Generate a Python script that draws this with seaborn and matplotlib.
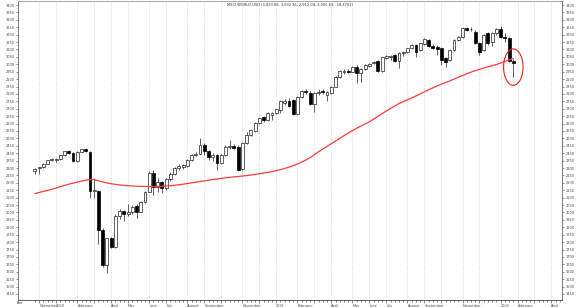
import numpy as np
import pandas as pd
import matplotlib
matplotlib.use("Agg")
import matplotlib.pyplot as plt
import seaborn as sns
from matplotlib.patches import Ellipse
from matplotlib.transforms import Bbox

# ---------------- data (weekly candles, weeks starting Monday) ----------------
first_week = "2019-11-25"
opens = [2278, 2298, 2305, 2330, 2352, 2356, 2360, 2385, 2415, 2400,
         2345, 2408, 2428, 2410, 2145, 2145, 1881, 1645, 1825, 1770,
         1975, 2012, 1992, 2005, 2045, 2005, 2070, 2138, 2265, 2175,
         2205, 2165, 2225, 2262, 2300, 2310, 2315, 2355, 2385, 2397,
         2458, 2412, 2372, 2385, 2335, 2385, 2442, 2446, 2440, 2292,
         2470, 2525, 2548, 2602, 2642, 2624, 2660, 2672, 2690, 2738,
         2755, 2759, 2665, 2780, 2822, 2808, 2732, 2805, 2818, 2793,
         2804, 2849, 2916, 2950, 2955, 2950, 2984, 2939, 2966, 2990,
         3006, 3024, 2957, 3042, 3048, 3060, 3025, 3074, 3080, 3107,
         3130, 3096, 3137, 3164, 3123, 3114, 3107, 3040, 3029, 3096,
         3164, 3182, 3245, 3235, 3220, 3141, 3096, 3209, 3153, 3209,
         3236, 3186, 3175, 3023.89]
highs = [2300, 2310, 2335, 2356, 2366, 2370, 2390, 2418, 2422, 2405,
         2412, 2428, 2435, 2412, 2235, 2152, 1892, 1830, 1835, 1990,
         2025, 2020, 2055, 2050, 2055, 2080, 2145, 2280, 2290, 2230,
         2215, 2235, 2270, 2310, 2325, 2330, 2362, 2392, 2405, 2500,
         2470, 2420, 2400, 2392, 2392, 2452, 2488, 2460, 2452, 2478,
         2545, 2562, 2610, 2640, 2650, 2675, 2680, 2700, 2760, 2765,
         2770, 2768, 2785, 2828, 2835, 2818, 2815, 2830, 2835, 2822,
         2855, 2920, 2962, 2970, 2970, 2990, 2992, 2972, 3000, 3008,
         3022, 3030, 3050, 3062, 3065, 3070, 3082, 3092, 3112, 3135,
         3140, 3146, 3175, 3172, 3135, 3128, 3115, 3050, 3102, 3170,
         3190, 3248, 3252, 3250, 3232, 3150, 3205, 3215, 3215, 3242,
         3255, 3210, 3185, 3032.36]
lows = [2262, 2262, 2300, 2326, 2348, 2340, 2352, 2382, 2398, 2340,
        2342, 2405, 2408, 2100, 2095, 1790, 1630, 1590, 1760, 1760,
        1955, 1945, 1975, 1990, 1960, 2000, 2065, 2135, 2120, 2140,
        2130, 2155, 2215, 2250, 2285, 2295, 2310, 2350, 2378, 2395,
        2390, 2355, 2350, 2290, 2325, 2378, 2430, 2425, 2283, 2285,
        2465, 2515, 2540, 2598, 2610, 2618, 2625, 2665, 2670, 2725,
        2712, 2655, 2655, 2775, 2800, 2722, 2680, 2795, 2800, 2750,
        2800, 2845, 2910, 2935, 2940, 2945, 2871, 2882, 2960, 2982,
        3000, 2950, 2950, 3035, 3030, 3018, 2975, 3055, 3075, 3100,
        3051, 3090, 3132, 3118, 3100, 3060, 2995, 2985, 3020, 3090,
        3155, 3175, 3222, 3225, 3135, 3060, 3090, 3130, 3120, 3200,
        3175, 3150, 3018, 2912.04]
closes = [2295, 2305, 2330, 2352, 2362, 2360, 2385, 2415, 2403, 2345,
          2408, 2425, 2412, 2145, 2150, 1881, 1645, 1825, 1770, 1975,
          2010, 1992, 2005, 2040, 2005, 2070, 2138, 2265, 2175, 2205,
          2165, 2228, 2262, 2300, 2315, 2318, 2355, 2385, 2397, 2458,
          2412, 2375, 2388, 2335, 2385, 2445, 2448, 2435, 2290, 2470,
          2526, 2556, 2605, 2635, 2624, 2668, 2672, 2695, 2752, 2752,
          2720, 2665, 2781, 2822, 2812, 2730, 2808, 2815, 2812, 2815,
          2849, 2916, 2957, 2957, 2950, 2984, 2939, 2966, 2995, 3002,
          3017, 2957, 3047, 3056, 3055, 3025, 3076, 3085, 3107, 3130,
          3085, 3141, 3168, 3123, 3107, 3100, 3029, 3018, 3096, 3164,
          3182, 3242, 3231, 3238, 3141, 3085, 3197, 3141, 3209, 3236,
          3186, 3175, 3024.1, 3005.63]
moving_avg = [2128, 2135, 2142, 2149, 2156, 2165, 2174, 2183, 2191, 2198,
              2205, 2212, 2218, 2222, 2221, 2214, 2206, 2199, 2194, 2190,
              2186, 2183, 2181, 2179, 2177, 2176, 2176, 2175, 2175, 2176,
              2177, 2179, 2181, 2184, 2187, 2191, 2195, 2200, 2204, 2209,
              2213, 2218, 2222, 2226, 2230, 2234, 2237, 2240, 2243, 2246,
              2249, 2253, 2257, 2261, 2266, 2271, 2276, 2282, 2289, 2297,
              2306, 2316, 2327, 2340, 2354, 2370, 2390, 2410, 2428, 2446,
              2464, 2482, 2500, 2518, 2536, 2553, 2568, 2583, 2598, 2612,
              2630, 2648, 2666, 2685, 2702, 2719, 2735, 2748, 2760, 2773,
              2786, 2800, 2814, 2828, 2841, 2854, 2866, 2877, 2888, 2900,
              2912, 2924, 2936, 2947, 2957, 2966, 2975, 2983, 2990, 2998,
              3008, 3019, 3030, 3038]
title_text = "MSCI WORLD USD (3,023.89, 3,032.36, 2,912.04, 3,005.63, -18.4702)"
month_names = ["January", "February", "March", "April", "May", "June", "July",
               "August", "September", "October", "November", "December"]
unlabeled_months = ["2020-03", "2020-10", "2020-12", "2021-03", "2021-10",
                    "2021-12", "2022-03"]
y_ticks = list(range(1450, 3401, 50))

# ---------------- derived frame ----------------
df = pd.DataFrame({"week": np.arange(len(closes)), "open": opens, "high": highs,
                   "low": lows, "close": closes, "ma": moving_avg})

# calendar for axis (weeks containing the first weekday of each month)
base = pd.Timestamp(first_week)
month_pos, month_lab, month_key = [], [], []
for m in pd.date_range("2019-11-01", "2022-04-01", freq="MS"):
    d = m
    while d.weekday() >= 5:
        d += pd.Timedelta(days=1)
    monday = d - pd.Timedelta(days=d.weekday())
    month_pos.append((monday - base).days / 7)
    month_lab.append(str(m.year) if m.month == 1 else month_names[m.month - 1])
    month_key.append(m.strftime("%Y-%m"))

FS = 2.5

# ---------------- figure ----------------
sns.set_style("white")
plt.rcParams["font.family"] = ["DejaVu Sans"]
fig = plt.figure(figsize=(5.8, 3.07), dpi=100)
ax = fig.add_axes([18 / 580, 7 / 307, 544 / 580, 299 / 307])

ax.set_xlim(-0.37, 124.5)
ax.set_ylim(1409.5, 3427)

# month gridlines
for p in month_pos:
    ax.axvline(p, color="#c8c8c8", lw=0.5, ls=(0, (1, 1.5)), zorder=0)

# wicks
ax.vlines(df["week"], df["low"], df["high"], color="#222222", lw=0.5, zorder=2)
# bodies
up = df["close"] >= df["open"]
body_bottom = np.minimum(df["open"], df["close"])
body_h = np.maximum(np.abs(df["close"] - df["open"]), 3)
ax.bar(df["week"][up], body_h[up], bottom=body_bottom[up], width=0.68,
       color="white", edgecolor="#222222", linewidth=0.5, zorder=3)
ax.bar(df["week"][~up], body_h[~up], bottom=body_bottom[~up], width=0.68,
       color="black", edgecolor="black", linewidth=0.5, zorder=3)

# moving average
sns.lineplot(data=df, x="week", y="ma", color="#ff3b3b", lw=0.9, ax=ax,
             zorder=4, legend=False)

# highlight ellipse around last candle
ax.add_patch(Ellipse((df["week"].iloc[-1], 2981), width=4.6, height=245,
                     fill=False, ec="#e82020", lw=0.8, zorder=5))

# title
ax.text(0.5, 0.994, title_text, transform=ax.transAxes, ha="center", va="top",
        fontsize=2.65, color="#333333")

# y axis both sides
ax.set_yticks(y_ticks)
ax.set_yticklabels([str(v) for v in y_ticks])
ax.tick_params(axis="y", left=True, right=True, labelleft=True, labelright=True,
               labelsize=FS, length=1.6, width=0.4, pad=1, colors="#444444")

# x axis
ax.set_xticks(month_pos)
ax.set_xticklabels(["" if k in unlabeled_months or p < 0 else lab
                    for p, lab, k in zip(month_pos, month_lab, month_key)])
for lbl in ax.get_xticklabels():
    lbl.set_ha("left")
ax.set_xticks(np.arange(0, 125), minor=True)
ax.tick_params(axis="x", which="major", bottom=True, labelsize=FS, length=2,
               width=0.4, pad=1, colors="#444444")
ax.tick_params(axis="x", which="minor", bottom=True, length=1.2, width=0.4,
               colors="#444444")
ax.set_xlabel("")
ax.set_ylabel("")

# clipped label of November 2019 (partially hidden at the left)
nov = fig.text(4.5 / 580, 1.6 / 307, "November", fontsize=FS, color="#444444",
               ha="left", va="bottom")
nov.set_clip_on(True)
nov.set_clip_box(Bbox.from_extents(16.5, 0, 23.5, 307))

for side, col in [("left", "#666666"), ("right", "#666666"),
                  ("top", "#999999"), ("bottom", "#444444")]:
    ax.spines[side].set_visible(True)
    ax.spines[side].set_color(col)
    ax.spines[side].set_linewidth(0.6)

fig.savefig("out.png", dpi=100)
